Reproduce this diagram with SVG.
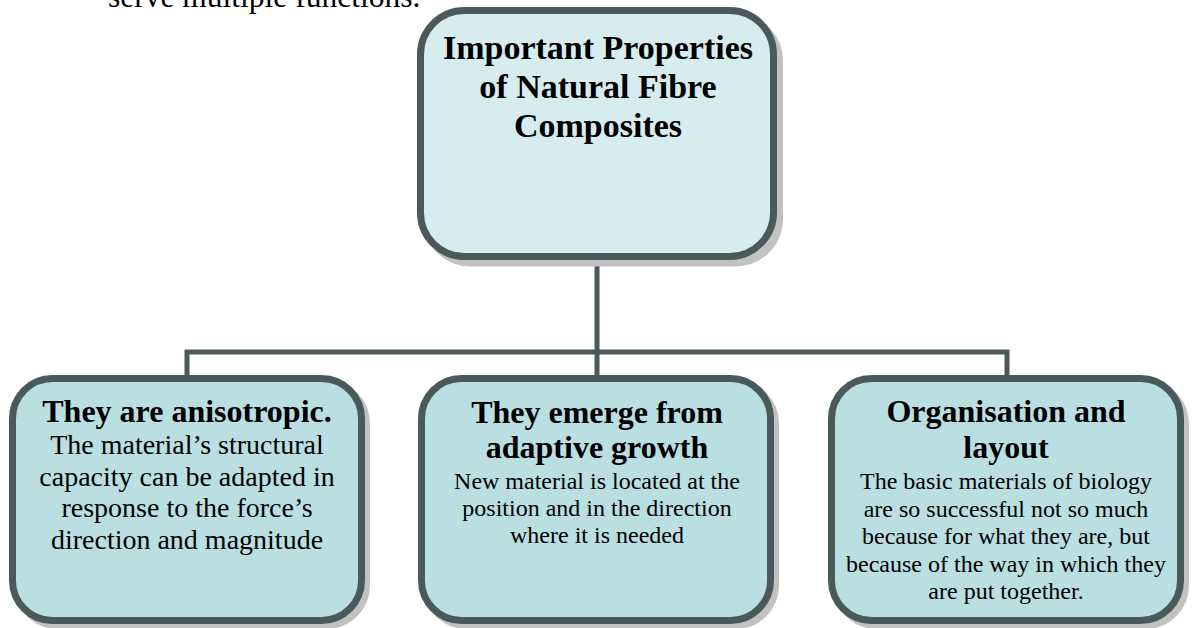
<svg xmlns="http://www.w3.org/2000/svg" width="1193" height="628" viewBox="0 0 1193 628">
<style>
.box{stroke:#4A5959;stroke-width:7}
.top{fill:#D7ECEF}
.bot{fill:#BADFE3}
.sh{fill:#C2C2C2;stroke:#C2C2C2;stroke-width:7}
.conn{stroke:#4A5959;stroke-width:5;fill:none}
text{font-family:"Liberation Serif","Times New Roman",serif;fill:#000;text-anchor:middle}
.t{font-weight:bold}
</style>
<rect width="1193" height="628" fill="#FFFFFF"/>
<text x="108" y="7" style="text-anchor:start;font-size:31.5px">serve multiple functions.</text>
<g id="connectors">
<path class="conn" d="M597 258 V352 M185 352 H1009.5 M187 350 V378 M597 350 V378 M1007 350 V378"/>
</g>
<g id="node-top">
<rect class="sh" x="426.5" y="17" width="353" height="246" rx="44"/>
<rect class="box top" x="420.5" y="10.5" width="353" height="246" rx="44"/>
<text class="t" font-size="34"><tspan x="598" y="59">Important Properties</tspan><tspan x="598" y="98">of Natural Fibre</tspan><tspan x="598" y="137">Composites</tspan></text>
</g>
<g id="node-left">
<rect class="sh" x="17.5" y="383.5" width="349" height="242" rx="40"/>
<rect class="box bot" x="12.5" y="378.5" width="349" height="242" rx="40"/>
<text class="t" x="187" y="422" font-size="32">They are anisotropic.</text>
<text font-size="28"><tspan x="187" y="454">The material’s structural</tspan><tspan x="187" y="485.5">capacity can be adapted in</tspan><tspan x="187" y="517">response to the force’s</tspan><tspan x="187" y="548.5">direction and magnitude</tspan></text>
</g>
<g id="node-middle">
<rect class="sh" x="426.5" y="383.5" width="349" height="242" rx="40"/>
<rect class="box bot" x="421.5" y="378.5" width="349" height="242" rx="40"/>
<text class="t" font-size="32"><tspan x="597" y="423">They emerge from</tspan><tspan x="597" y="458">adaptive growth</tspan></text>
<text font-size="24"><tspan x="597" y="489">New material is located at the</tspan><tspan x="597" y="516">position and in the direction</tspan><tspan x="597" y="543">where it is needed</tspan></text>
</g>
<g id="node-right">
<rect class="sh" x="836.5" y="383.5" width="349" height="242" rx="40"/>
<rect class="box bot" x="831.5" y="378.5" width="349" height="242" rx="40"/>
<text class="t" font-size="32"><tspan x="1006" y="422">Organisation and</tspan><tspan x="1006" y="458">layout</tspan></text>
<text font-size="24"><tspan x="1006" y="489">The basic materials of biology</tspan><tspan x="1006" y="516.5">are so successful not so much</tspan><tspan x="1006" y="544">because for what they are, but</tspan><tspan x="1006" y="571.5">because of the way in which they</tspan><tspan x="1006" y="599">are put together.</tspan></text>
</g>
</svg>
